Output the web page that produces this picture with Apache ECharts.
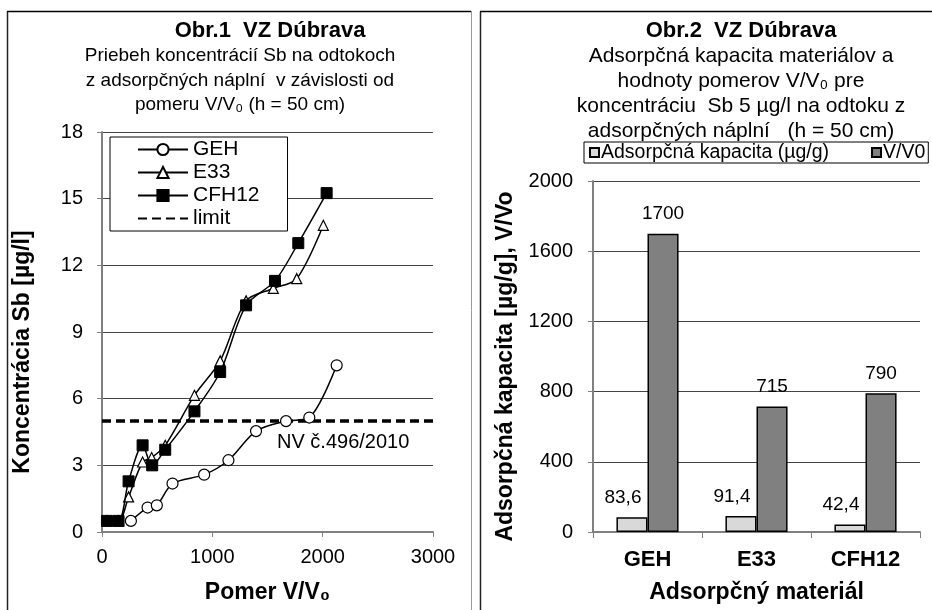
<!DOCTYPE html>
<html>
<head>
<meta charset="utf-8">
<script src="https://cdn.jsdelivr.net/npm/echarts@6/dist/echarts.min.js"></script>
<style>html,body{margin:0;padding:0;background:#fff;}#c{width:932px;height:610px;}</style>
</head>
<body>
<div id="c"></div>
<script>
// ---- Obr.1 data ----
const gehX = [262, 413, 497, 639, 926, 1146, 1396, 1668, 1879, 2127];
const gehY = [0.5, 1.1, 1.2, 2.18, 2.58, 3.23, 4.54, 4.99, 5.15, 7.5];
const e33X = [45, 150, 241, 368, 450, 573, 838, 1071, 1306, 1553, 1765, 2006];
const e33Y = [0.5, 0.5, 1.58, 3.15, 3.35, 3.9, 6.15, 7.7, 10.4, 10.96, 11.4, 13.8];
const cfhX = [45, 150, 241, 368, 455, 573, 838, 1071, 1306, 1568, 1779, 2036];
const cfhY = [0.5, 0.5, 2.28, 3.9, 3.0, 3.7, 5.43, 7.2, 10.2, 11.3, 13.0, 15.25];
const limitX = [0, 3000];
const limitY = [5, 5];
// ---- Obr.2 data ----
const materials = ['GEH', 'E33', 'CFH12'];
const capacity = [83.6, 91.4, 42.4];
const ratio = [1700, 715, 790];

const zip = (xs, ys) => xs.map((x, i) => [x, ys[i]]);
const F = 'Liberation Sans, Arial, sans-serif';

const chart = echarts.init(document.getElementById('c'));
const lineCommon = {
  type: 'line', xAxisIndex: 0, yAxisIndex: 0, smooth: 0.3,
  lineStyle: { color: '#000', width: 1.5 }, z: 3
};
chart.setOption({
  animation: false,
  textStyle: { fontFamily: F },
  title: [
    { text: 'Obr.1  VZ Dúbrava', left: 270, top: 18, textAlign: 'center', padding: 0,
      textStyle: { fontFamily: F, fontSize: 22, fontWeight: 'bold', color: '#000', lineHeight: 26 } },
    { text: 'Priebeh koncentrácií Sb na odtokoch\nz adsorpčných náplní  v závislosti od\npomeru V/V₀ (h = 50 cm)', left: 240, top: 44, textAlign: 'center', padding: 0,
      textStyle: { fontFamily: F, fontSize: 19, fontWeight: 'normal', color: '#000', lineHeight: 24.5 } },
    { text: 'Obr.2  VZ Dúbrava', left: 741, top: 18, textAlign: 'center', padding: 0,
      textStyle: { fontFamily: F, fontSize: 22, fontWeight: 'bold', color: '#000', lineHeight: 26 } },
    { text: 'Adsorpčná kapacita materiálov a\nhodnoty pomerov V/V₀ pre\nkoncentráciu  Sb 5 µg/l na odtoku z\nadsorpčných náplní   (h = 50 cm)', left: 741, top: 44, textAlign: 'center', padding: 0,
      textStyle: { fontFamily: F, fontSize: 21, fontWeight: 'normal', color: '#000', lineHeight: 25 } }
  ],
  legend: [
    { orient: 'vertical', left: 110, top: 137,
      data: ['GEH', 'E33', 'CFH12', { name: 'limit', itemStyle: { opacity: 0 } }],
      itemWidth: 50, itemHeight: 14, itemGap: 0, padding: [1, 28, 1, 27],
      borderColor: '#000', borderWidth: 1, backgroundColor: '#fff',
      textStyle: { fontFamily: F, fontSize: 21, color: '#000', lineHeight: 23 } },
    { orient: 'horizontal', left: 584, top: 142, data: ['Adsorpčná kapacita (µg/g)', 'V/V0'],
      icon: 'rect', itemWidth: 9, itemHeight: 9, itemGap: 42, padding: [0, 3, 0, 5],
      borderColor: '#000', borderWidth: 1,
      textStyle: { fontFamily: F, fontSize: 19.5, color: '#000', lineHeight: 21, padding: [0, 0, 0, -3] } }
  ],
  grid: [
    { left: 102, top: 132, width: 331, height: 400 },
    { left: 593, top: 181, width: 327, height: 351 }
  ],
  xAxis: [
    { gridIndex: 0, type: 'value', min: 0, max: 3000, interval: 1000,
      name: 'Pomer V/V₀', nameLocation: 'middle', nameGap: 49,
      nameTextStyle: { fontFamily: F, fontSize: 23, fontWeight: 'bold', color: '#000' },
      axisLine: { show: true, lineStyle: { color: '#808080', width: 2 } },
      axisTick: { show: true, length: 5, lineStyle: { color: '#808080', width: 1 } },
      axisLabel: { fontFamily: F, fontSize: 20, color: '#000', margin: 15, formatter: v => String(v) },
      splitLine: { show: false } },
    { gridIndex: 1, type: 'category', data: materials,
      name: 'Adsorpčný materiál', nameLocation: 'middle', nameGap: 49,
      nameTextStyle: { fontFamily: F, fontSize: 23, fontWeight: 'bold', color: '#000' },
      axisLine: { lineStyle: { color: '#808080', width: 2 } },
      axisTick: { show: true, length: 6, lineStyle: { color: '#808080' } },
      axisLabel: { fontFamily: F, fontSize: 22, fontWeight: 'bold', color: '#000', margin: 17 } }
  ],
  yAxis: [
    { gridIndex: 0, type: 'value', min: 0, max: 18, interval: 3,
      name: 'Koncentrácia Sb [µg/l]', nameLocation: 'middle', nameGap: 68,
      nameTextStyle: { fontFamily: F, fontSize: 23, fontWeight: 'bold', color: '#000', padding: [0, 40, 0, 0] },
      axisLine: { show: true, lineStyle: { color: '#808080', width: 2 } },
      axisTick: { show: true, length: 5, lineStyle: { color: '#808080' } },
      axisLabel: { fontFamily: F, fontSize: 20, color: '#000', margin: 19 },
      splitLine: { show: true, lineStyle: { color: '#444', width: 1 } } },
    { gridIndex: 1, type: 'value', min: 0, max: 2000, interval: 400,
      name: 'Adsorpčná kapacita [µg/g], V/Vo', nameLocation: 'middle', nameGap: 76,
      nameTextStyle: { fontFamily: F, fontSize: 23, fontWeight: 'bold', color: '#000', padding: [0, 20, 0, 0] },
      axisLine: { show: true, lineStyle: { color: '#808080', width: 2 } },
      axisTick: { show: true, length: 5, lineStyle: { color: '#808080' } },
      axisLabel: { fontFamily: F, fontSize: 20, color: '#000', margin: 20, formatter: v => String(v) },
      splitLine: { show: true, lineStyle: { color: '#444', width: 1 } } }
  ],
  series: [
    Object.assign({}, lineCommon, { name: 'GEH', data: zip(gehX, gehY), symbol: 'circle', symbolSize: 11,
      itemStyle: { color: '#fff', borderColor: '#000', borderWidth: 1.2 } }),
    Object.assign({}, lineCommon, { name: 'E33', data: zip(e33X, e33Y), symbol: 'triangle', symbolSize: 10,
      itemStyle: { color: '#fff', borderColor: '#000', borderWidth: 1.2 } }),
    Object.assign({}, lineCommon, { name: 'CFH12', data: zip(cfhX, cfhY), symbol: 'rect', symbolSize: 11,
      itemStyle: { color: '#000', borderColor: '#000', borderWidth: 1 }, z: 4 }),
    { type: 'line', name: 'limit', xAxisIndex: 0, yAxisIndex: 0, data: zip(limitX, limitY),
      symbol: 'none', lineStyle: { color: '#000', width: 3.5, type: [9, 5] }, itemStyle: { color: '#000' }, z: 2 },
    { type: 'bar', name: 'Adsorpčná kapacita (µg/g)', xAxisIndex: 1, yAxisIndex: 1, data: capacity,
      barGap: '0%', barCategoryGap: '43%',
      itemStyle: { color: '#d9d9d9', borderColor: '#000', borderWidth: 1.5 },
      label: { show: true, position: 'top', distance: 10, offset: [-9, 0], fontFamily: F, fontSize: 19, color: '#000',
        formatter: p => String(p.value).replace('.', ',') } },
    { type: 'bar', name: 'V/V0', xAxisIndex: 1, yAxisIndex: 1, data: ratio,
      itemStyle: { color: '#808080', borderColor: '#000', borderWidth: 1.5 },
      label: { show: true, position: 'top', distance: 10, fontFamily: F, fontSize: 19, color: '#000' } }
  ],
  graphic: [
    { type: 'line', shape: { x1: 7.5, y1: 11.5, x2: 7.5, y2: 610 }, style: { stroke: '#222', lineWidth: 1.5 } },
    { type: 'line', shape: { x1: 7, y1: 11.5, x2: 471, y2: 11.5 }, style: { stroke: '#000', lineWidth: 1.5 } },
    { type: 'line', shape: { x1: 471.5, y1: 11, x2: 471.5, y2: 610 }, style: { stroke: '#999', lineWidth: 1 } },
    { type: 'line', shape: { x1: 480.5, y1: 11.5, x2: 480.5, y2: 610 }, style: { stroke: '#222', lineWidth: 1.5 } },
    { type: 'line', shape: { x1: 480, y1: 11.5, x2: 932, y2: 11.5 }, style: { stroke: '#000', lineWidth: 1.5 } },
    { type: 'text', left: 277, top: 432, style: { text: 'NV č.496/2010', fontFamily: F, fontSize: 20, fill: '#000' }, z: 10 }
  ]
});
</script>
</body>
</html>
